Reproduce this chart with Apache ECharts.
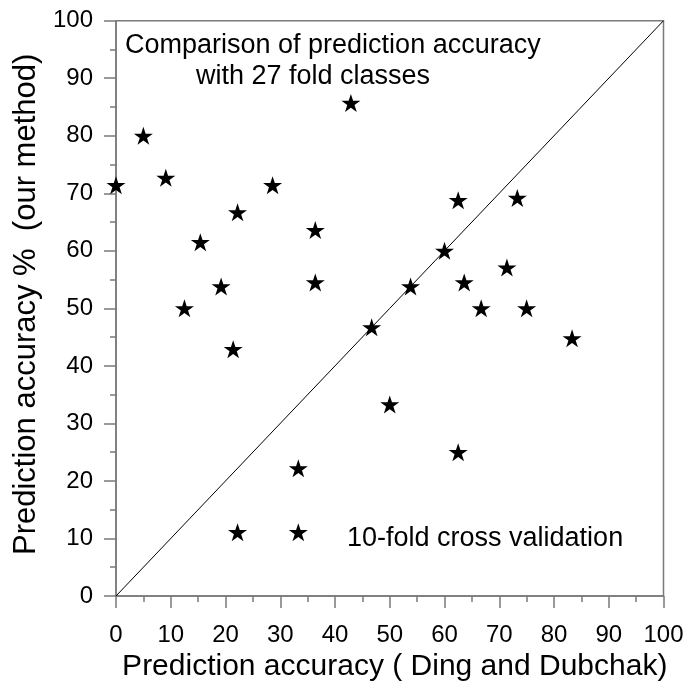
<!DOCTYPE html>
<html>
<head>
<meta charset="utf-8">
<script src="https://cdn.jsdelivr.net/npm/echarts@6/dist/echarts.min.js"></script>
<style>html,body{margin:0;padding:0;background:#fff;}#c{width:691px;height:688px;}</style>
</head>
<body>
<div id="c"></div>
<script>
const dingDubchak = [0, 5, 9.1, 12.5, 15.4, 19.2, 21.4, 22.2, 22.2, 28.6, 33.3, 33.3, 36.4, 36.4, 42.9, 46.7, 50, 53.8, 60, 62.5, 62.5, 63.6, 66.7, 71.4, 73.3, 75, 83.3];
const ourMethod   = [71.4, 80, 72.7, 50, 61.5, 53.8, 42.9, 66.7, 11.1, 71.4, 22.2, 11.1, 63.6, 54.5, 85.7, 46.7, 33.3, 53.8, 60, 68.8, 25, 54.5, 50, 57.1, 69.2, 50, 44.8];
const diagonal = [[0, 0], [100, 100]];
const xTitle = 'Prediction accuracy ( Ding and Dubchak)';
const yTitle = 'Prediction accuracy %  (our method)';
const noteTop = ['Comparison of prediction accuracy', 'with 27 fold classes'];
const noteBottom = '10-fold cross validation';

const FONT = "'Liberation Sans', Arial, sans-serif";
const star = 'path://M100 0 L122.45 69.1 L195.1 69.1 L136.3 111.8 L158.8 180.9 L100 138.2 L41.2 180.9 L63.7 111.8 L4.9 69.1 L77.55 69.1 Z';
const points = dingDubchak.map((x, i) => [x, ourMethod[i]]);
const axisGray = '#7a7a7a';

const chart = echarts.init(document.getElementById('c'), null, {renderer: 'canvas'});
chart.setOption({
  animation: false,
  backgroundColor: '#fff',
  grid: {left: 116, right: 27.5, top: 20.7, bottom: 92, show: true, borderColor: axisGray, borderWidth: 1.5, backgroundColor: 'transparent'},
  xAxis: {
    type: 'value', min: 0, max: 100, interval: 10,
    name: xTitle, nameLocation: 'middle', nameGap: 56,
    nameTextStyle: {fontFamily: FONT, fontSize: 30, color: '#000', padding: [0, 0, 0, 10]},
    axisLine: {show: true, lineStyle: {color: axisGray, width: 1.5}},
    axisTick: {show: true, inside: false, length: 12, lineStyle: {color: axisGray, width: 1.5}},
    minorTick: {show: true, splitNumber: 2, length: 6, lineStyle: {color: axisGray, width: 1.5}},
    splitLine: {show: false},
    axisLabel: {fontFamily: FONT, fontSize: 24, color: '#000', margin: 27}
  },
  yAxis: {
    type: 'value', min: 0, max: 100, interval: 10,
    name: yTitle, nameLocation: 'middle', nameGap: 74,
    nameTextStyle: {fontFamily: FONT, fontSize: 31, color: '#000', padding: [0, 0, 0, 8]},
    axisLine: {show: true, lineStyle: {color: axisGray, width: 1.5}},
    axisTick: {show: true, inside: false, length: 12, lineStyle: {color: axisGray, width: 1.5}},
    minorTick: {show: true, splitNumber: 2, length: 6, lineStyle: {color: axisGray, width: 1.5}},
    splitLine: {show: false},
    axisLabel: {fontFamily: FONT, fontSize: 24, color: '#000', margin: 23}
  },
  series: [
    {type: 'line', data: diagonal, symbol: 'none', lineStyle: {color: '#000', width: 1}, silent: true, z: 1},
    {type: 'scatter', data: points, symbol: star, symbolSize: [19, 18], itemStyle: {color: '#000', opacity: 1}, z: 3}
  ],
  graphic: [
    {type: 'text', x: 125, y: 32, z: 10, style: {text: noteTop[0], fontFamily: FONT, fontSize: 27, fill: '#000'}},
    {type: 'text', x: 196, y: 63, z: 10, style: {text: noteTop[1], fontFamily: FONT, fontSize: 27, fill: '#000'}},
    {type: 'text', x: 347, y: 525, z: 10, style: {text: noteBottom, fontFamily: FONT, fontSize: 27, fill: '#000'}}
  ]
});
</script>
</body>
</html>
